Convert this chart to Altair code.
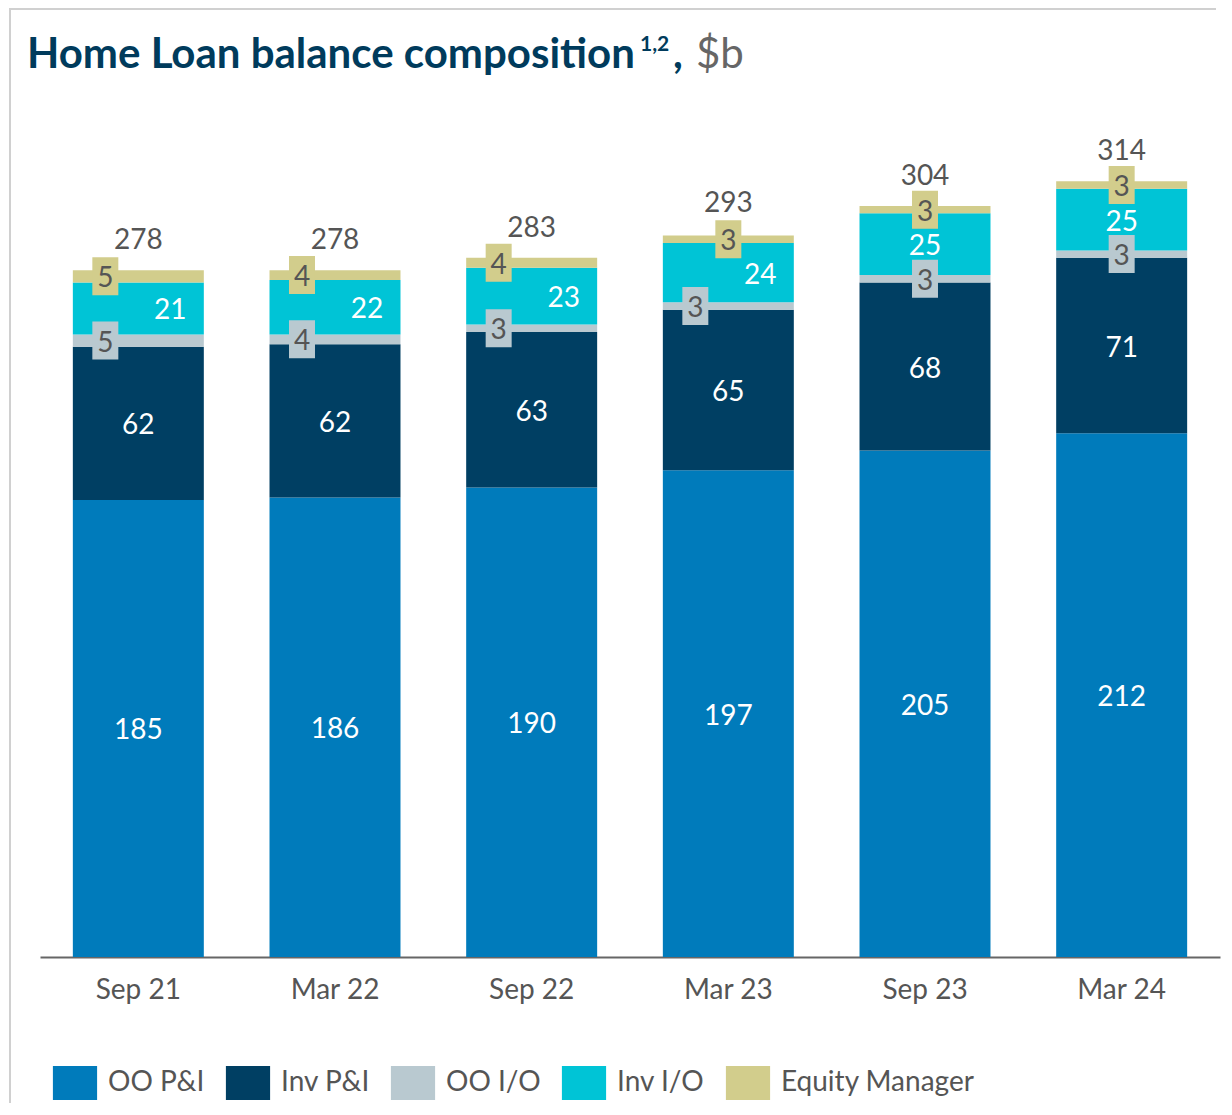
import altair as alt
import pandas as pd

# ---------------- data ----------------
periods = ["Sep 21", "Mar 22", "Sep 22", "Mar 23", "Sep 23", "Mar 24"]
series = ["OO P&I", "Inv P&I", "OO I/O", "Inv I/O", "Equity Manager"]
colors = ["#007BBB", "#003F63", "#B9C9D0", "#00C4D6", "#D2CD8C"]

oo_pi = [185, 186, 190, 197, 205, 212]
inv_pi = [62, 62, 63, 65, 68, 71]
oo_io = [5, 4, 3, 3, 3, 3]
inv_io = [21, 22, 23, 24, 25, 25]
equity = [5, 4, 4, 3, 3, 3]
totals = [278, 278, 283, 293, 304, 314]

# label placement inside each bar: L = left of centre, C = centre, R = right of centre
oo_pi_place = ["C"] * 6
inv_pi_place = ["C"] * 6
oo_io_place = ["L", "L", "L", "L", "C", "C"]
inv_io_place = ["R", "R", "R", "R", "C", "C"]
equity_place = ["L", "L", "L", "C", "C", "C"]

title_parts = ["Home Loan balance composition", "1,2", ",", "$b"]

# ---------------- table ----------------
values = [oo_pi, inv_pi, oo_io, inv_io, equity]
places = [oo_pi_place, inv_pi_place, oo_io_place, inv_io_place, equity_place]
boxed = [False, False, True, False, True]
rows = []
for i, p in enumerate(periods):
    base = 0
    for j, s in enumerate(series):
        v = values[j][i]
        rows.append(dict(period=p, series=s, idx=j, value=v, y0=base, y1=base + v,
                         mid=base + v / 2, place=places[j][i], boxed=boxed[j],
                         hex=colors[j]))
        base += v
df = pd.DataFrame(rows)
tot_df = pd.DataFrame(dict(period=periods, total=totals))

FONT = "Lato"
GREY = "#555555"
NAVY = "#003B5C"
TDY = 3

xenc = alt.X("period:N", sort=periods,
             scale=alt.Scale(paddingInner=0.334, paddingOuter=0.167),
             axis=alt.Axis(title=None, labelFont=FONT, labelFontSize=28, labelColor=GREY,
                           labelPadding=19, ticks=False, domainColor="#666666",
                           domainWidth=2, labelAngle=0))
yscale = alt.Scale(domain=[0, 340], nice=False, zero=True)

bars = alt.Chart(df).mark_bar().encode(
    x=xenc,
    y=alt.Y("y0:Q", scale=yscale, axis=None),
    y2="y1:Q",
    color=alt.Color("series:N", sort=series,
                    scale=alt.Scale(domain=series, range=colors),
                    legend=alt.Legend(title=None, orient="none", direction="horizontal",
                                      legendX=18, legendY=949,
                                      symbolType="M-1.3,-1H1.3V1H-1.3Z",
                                      symbolSize=1156, symbolStrokeWidth=0,
                                      symbolOpacity=1,
                                      labelFont=FONT, labelFontSize=28, labelColor=GREY,
                                      labelOffset=16, columnPadding=20, labelLimit=400)),
)

def ytxt():
    return alt.Y("mid:Q", scale=yscale, axis=None)

plain = df[~df.boxed]
white_c = alt.Chart(plain[plain.place == "C"]).mark_text(
    font=FONT, fontSize=28, color="white", baseline="middle", align="center", dy=TDY
).encode(x=alt.X("period:N", sort=periods), y=ytxt(), text="value:Q")
white_r = alt.Chart(plain[plain.place == "R"]).mark_text(
    font=FONT, fontSize=28, color="white", baseline="middle", align="center", dx=32, dy=TDY
).encode(x=alt.X("period:N", sort=periods), y=ytxt(), text="value:Q")

boxdf = df[df.boxed]
box_shape = "M-0.684,-1H0.684V1H-0.684Z"
layers = [bars, white_c, white_r]
for place, off in [("L", -33), ("C", 0)]:
    sub = boxdf[boxdf.place == place]
    box = alt.Chart(sub).mark_point(
        shape=box_shape, size=1444, filled=True, opacity=1, strokeWidth=0, xOffset=off
    ).encode(x=alt.X("period:N", sort=periods), y=ytxt(),
             fill=alt.Fill("hex:N", scale=None))
    txt = alt.Chart(sub).mark_text(
        font=FONT, fontSize=28, color=GREY, baseline="middle", align="center", dx=off, dy=TDY
    ).encode(x=alt.X("period:N", sort=periods), y=ytxt(), text="value:Q")
    layers += [box, txt]

tot = alt.Chart(tot_df).mark_text(
    font=FONT, fontSize=28, color=GREY, baseline="middle", align="center", dy=-29
).encode(x=alt.X("period:N", sort=periods),
         y=alt.Y("total:Q", scale=yscale, axis=None), text="total:Q")
layers.append(tot)

one = pd.DataFrame({"k": [0]})
t1 = alt.Chart(one).mark_text(font=FONT, fontSize=42, fontWeight="bold", color=NAVY,
                              align="left", baseline="alphabetic").encode(
    x=alt.value(-13), y=alt.value(-49), text=alt.value(title_parts[0]))
t2 = alt.Chart(one).mark_text(font=FONT, fontSize=21, fontWeight="bold", color=NAVY,
                              align="left", baseline="alphabetic").encode(
    x=alt.value(600), y=alt.value(-66), text=alt.value(title_parts[1]))
t3 = alt.Chart(one).mark_text(font=FONT, fontSize=42, fontWeight="bold", color=NAVY,
                              align="left", baseline="alphabetic").encode(
    x=alt.value(633), y=alt.value(-49), text=alt.value(title_parts[2]))
t4 = alt.Chart(one).mark_text(font=FONT, fontSize=42, color="#666666",
                              align="left", baseline="alphabetic").encode(
    x=alt.value(656), y=alt.value(-49), text=alt.value(title_parts[3]))
border_l = alt.Chart(one).mark_rule(color="#D0D0D0", strokeWidth=2).encode(
    x=alt.value(-30), y=alt.value(-109), y2=alt.value(986))
border_t = alt.Chart(one).mark_rule(color="#D0D0D0", strokeWidth=2).encode(
    x=alt.value(-31), x2=alt.value(1176), y=alt.value(-108))
layers += [t1, t2, t3, t4, border_l, border_t]

chart = alt.layer(*layers).properties(
    width=1180, height=840,
    background="white",
    autosize=alt.AutoSizeParams(type="none"),
    padding={"left": 32, "top": 109, "right": 4, "bottom": 146},
).configure_view(stroke=None, strokeWidth=0)

chart.save("out.html", embed_options={"renderer": "svg", "actions": False})
